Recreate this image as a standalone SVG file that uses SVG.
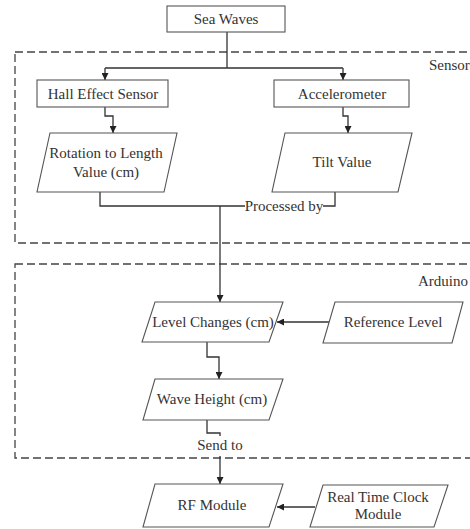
<svg xmlns="http://www.w3.org/2000/svg" width="470" height="529" viewBox="0 0 470 529">
<style>
.t{font-size:15px;fill:#333;text-anchor:middle}
.box{fill:#fff;stroke:#555;stroke-width:1.1}
.grp{fill:none;stroke:#444;stroke-width:1.3;stroke-dasharray:8 4}
.c{fill:none;stroke:#333;stroke-width:1.3}
.a{marker-end:url(#arr)}
.lbl{text-anchor:start}
</style>
<defs>
<marker id="arr" viewBox="0 0 8 8" refX="8" refY="4" markerWidth="7" markerHeight="7" orient="auto" markerUnits="userSpaceOnUse">
<path d="M0,0 L8,4 L0,8 z" fill="#222"/>
</marker>
</defs>
<rect width="470" height="529" fill="#fff"/>
<g id="groups">
<rect class="grp" x="15" y="52" width="480" height="191"/>
<text class="t lbl" x="429" y="70" style="font-family:'Liberation Serif'">Sensor</text>
<rect class="grp" x="15" y="264" width="480" height="194"/>
<text class="t lbl" x="418" y="286" style="font-family:'Liberation Serif'">Arduino</text>
</g>
<g id="connectors">
<path class="c" d="M227,32 V68 M105,68 H343"/>
<path class="c a" d="M105,68 V80"/>
<path class="c a" d="M343,68 V80"/>
<path class="c a" d="M105,107 V116 H113 V133"/>
<path class="c a" d="M343,107 V116 H348 V133"/>
<path class="c" d="M100,192 V206 H245 M323,206 H335 V192"/>
<path class="c a" d="M220,206 V302"/>
<path class="c a" d="M330,322 H277"/>
<path class="c a" d="M207,342 V357 H219 V379"/>
<path class="c" d="M207,420 V433 H220 V436"/>
<path class="c a" d="M220,456 V484"/>
<path class="c a" d="M315,507 H277"/>
<text class="t" x="284" y="211" style="font-family:'Liberation Serif'">Processed by</text>
<text class="t" x="220" y="450" style="font-family:'Liberation Serif'">Send to</text>
</g>
<g id="sea-waves">
<rect class="box" x="167" y="6" width="118" height="26"/>
<text class="t" x="226" y="24" style="font-family:'Liberation Serif'">Sea Waves</text>
</g>
<g id="hall-effect-sensor">
<rect class="box" x="37" y="80" width="131" height="27"/>
<text class="t" x="103" y="99" style="font-family:'Liberation Serif'">Hall Effect Sensor</text>
</g>
<g id="accelerometer">
<rect class="box" x="274" y="80" width="135" height="27"/>
<text class="t" x="342" y="99" style="font-family:'Liberation Serif'">Accelerometer</text>
</g>
<g id="rotation-to-length">
<polygon class="box" points="50,133 177,133 164,192 37,192"/>
<text class="t" x="106" y="158" style="font-family:'Liberation Serif'">Rotation to Length</text>
<text class="t" x="106" y="177" style="font-family:'Liberation Serif'">Value (cm)</text>
</g>
<g id="tilt-value">
<polygon class="box" points="285,133 412,133 398,192 272,192"/>
<text class="t" x="342" y="167" style="font-family:'Liberation Serif'">Tilt Value</text>
</g>
<g id="level-changes">
<polygon class="box" points="155,302 283,302 269,342 142,342"/>
<text class="t" x="213" y="327" style="font-family:'Liberation Serif'">Level Changes (cm)</text>
</g>
<g id="reference-level">
<polygon class="box" points="335,302 463,302 452,343 323,343"/>
<text class="t" x="393" y="327" style="font-family:'Liberation Serif'">Reference Level</text>
</g>
<g id="wave-height">
<polygon class="box" points="155,379 283,379 269,420 143,420"/>
<text class="t" x="212" y="404" style="font-family:'Liberation Serif'">Wave Height (cm)</text>
</g>
<g id="rf-module">
<polygon class="box" points="155,484 283,484 269,527 143,527"/>
<text class="t" x="212" y="510" style="font-family:'Liberation Serif'">RF Module</text>
</g>
<g id="real-time-clock">
<polygon class="box" points="323,485 448,485 434,527 310,527"/>
<text class="t" x="378" y="502" style="font-family:'Liberation Serif'">Real Time Clock</text>
<text class="t" x="378" y="519" style="font-family:'Liberation Serif'">Module</text>
</g>
</svg>
